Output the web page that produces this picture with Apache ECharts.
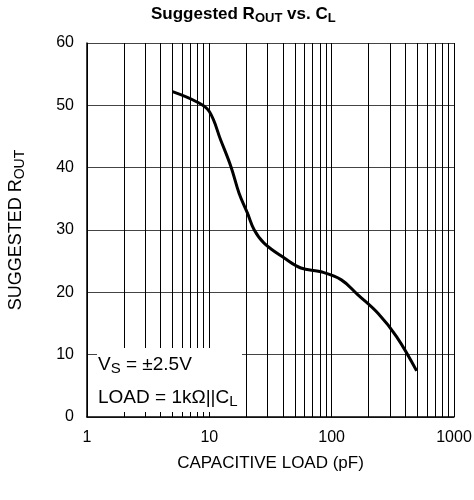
<!DOCTYPE html>
<html><head><meta charset="utf-8">
<script src="https://cdn.jsdelivr.net/npm/echarts@6/dist/echarts.min.js"></script>
<style>html,body{margin:0;padding:0;background:#fff}#c{width:474px;height:500px}</style>
</head><body><div id="c"></div>
<script>
const capLoad = [5, 8, 10, 12.4, 15, 17.5, 20.5, 23.3, 28, 41, 56, 82, 120, 164, 240, 339, 495];
const rout    = [52.2, 50.5, 49.0, 44.4, 40.2, 35.9, 32.7, 30.0, 27.9, 25.5, 23.9, 23.3, 22.0, 19.6, 16.6, 12.9, 7.4];
const minorGrid = [2,3,4,5,6,7,8,9,20,30,40,50,60,70,80,90,200,300,400,500,600,700,800,900];
const xTicks = [1, 10, 100, 1000];
const yTicks = [0, 10, 20, 30, 40, 50, 60];

const font = 'Liberation Sans, Arial, sans-serif';
const chart = echarts.init(document.getElementById('c'), null, {renderer: 'canvas'});
chart.setOption({
  animation: false,
  backgroundColor: '#fff',
  textStyle: {fontFamily: font},
  title: {
    text: '{a|Suggested R}{s|OUT}{a| vs. C}{s|L}',
    left: 146, top: -2,
    textStyle: {
      rich: {
        a: {fontFamily: font, fontSize: 17, fontWeight: 'bold', color: '#000'},
        s: {fontFamily: font, fontSize: 13, fontWeight: 'bold', color: '#000', padding: [9, 0, 0, 0]}
      }
    }
  },
  grid: {left: 87, right: 20, top: 43, bottom: 83, containLabel: false, outerBoundsMode: 'none'},
  xAxis: {
    type: 'log', logBase: 10, min: 1, max: 1000,
    name: 'CAPACITIVE LOAD (pF)', nameLocation: 'middle', nameGap: 38,
    nameTextStyle: {fontFamily: font, fontSize: 17, color: '#000'},
    axisLine: {show: true, onZero: false, lineStyle: {color: '#000', width: 1.5}},
    axisTick: {show: false},
    axisLabel: {fontFamily: font, fontSize: 16, color: '#000', margin: 13,
      formatter: v => xTicks.includes(v) ? String(v) : ''},
    splitLine: {show: true, lineStyle: {color: '#000', width: 1}}
  },
  yAxis: {
    type: 'value', min: 0, max: 60, interval: 10,
    name: '{a|SUGGESTED R}{s|OUT}', nameLocation: 'middle', nameGap: 60, nameRotate: 90,
    nameTextStyle: {rich: {
      a: {fontFamily: font, fontSize: 18, color: '#000'},
      s: {fontFamily: font, fontSize: 14, color: '#000', padding: [7, 0, 0, 0]}
    }},
    axisLine: {show: true, lineStyle: {color: '#000', width: 1.5}},
    axisTick: {show: false},
    axisLabel: {fontFamily: font, fontSize: 16, color: '#000', margin: 13,
      formatter: v => yTicks.includes(v) ? String(v) : ''},
    splitLine: {show: true, lineStyle: {color: '#444', width: 1}}
  },
  series: [{
    type: 'line', smooth: 0.4, symbol: 'none', z: 5,
    data: capLoad.map((x, i) => [x, rout[i]]),
    lineStyle: {color: '#000', width: 3},
    markLine: {
      silent: true, symbol: 'none', z: 1,
      label: {show: false},
      lineStyle: {color: '#000', width: 1, type: 'solid'},
      data: minorGrid.map(v => ({xAxis: v}))
    }
  }],
  graphic: [
    {type: 'rect', z: 10, shape: {x: 97, y: 348, width: 145, height: 64}, style: {fill: '#fff'}},
    {type: 'text', z: 11, x: 98, y: 353, style: {
      text: '{a|V}{s|S}{a| = ±2.5V}',
      rich: {a: {fontFamily: font, fontSize: 19, fill: '#000'}, s: {fontFamily: font, fontSize: 15, fill: '#000', padding: [8, 0, 0, 0]}}
    }},
    {type: 'text', z: 11, x: 98, y: 386, style: {
      text: '{a|LOAD = 1kΩ||C}{s|L}',
      rich: {a: {fontFamily: font, fontSize: 19, fill: '#000'}, s: {fontFamily: font, fontSize: 15, fill: '#000', padding: [8, 0, 0, 0]}}
    }}
  ]
});
</script></body></html>
